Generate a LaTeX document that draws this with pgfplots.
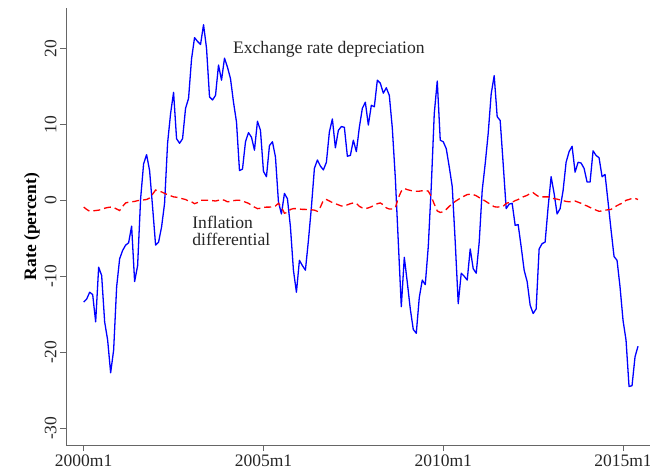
\documentclass[border=0pt]{standalone}
\usepackage{pgfplots}
\pgfplotsset{compat=1.18}
\usepackage{pgfplotstable}
\usepackage{fontspec}
\setmainfont{Liberation Serif}

\pgfplotstableread{
m v
0 -13.4
1 -13.0
2 -12.1
3 -12.4
4 -16.0
5 -8.8
6 -9.9
7 -16.0
8 -18.4
9 -22.7
10 -19.7
11 -11.4
12 -7.7
13 -6.6
14 -5.9
15 -5.6
16 -3.4
17 -10.7
18 -8.6
19 0.2
20 4.8
21 6.0
22 3.9
23 -0.9
24 -5.9
25 -5.5
26 -3.5
27 -0.4
28 7.5
29 11.4
30 14.2
31 8.1
32 7.5
33 8.1
34 12.1
35 13.4
36 18.6
37 21.4
38 20.9
39 20.5
40 23.1
41 20.0
42 13.6
43 13.2
44 13.8
45 17.8
46 15.8
47 18.7
48 17.5
49 16.0
50 12.9
51 10.3
52 3.9
53 4.1
54 7.7
55 8.9
56 8.3
57 6.6
58 10.4
59 9.2
60 3.8
61 3.1
62 7.2
63 7.7
64 5.7
65 -0.2
66 -1.8
67 0.9
68 0.2
69 -3.5
70 -9.2
71 -12.1
72 -7.9
73 -8.6
74 -9.2
75 -5.3
76 -0.9
77 4.2
78 5.3
79 4.5
80 4.0
81 5.0
82 9.0
83 10.7
84 6.9
85 9.2
86 9.7
87 9.6
88 5.8
89 5.9
90 7.9
91 6.4
92 9.6
93 12.1
94 12.9
95 9.9
96 12.5
97 12.3
98 15.8
99 15.4
100 14.1
101 14.8
102 13.8
103 9.5
104 3.0
105 -5.5
106 -14.0
107 -7.5
108 -10.8
109 -14.3
110 -17.0
111 -17.5
112 -12.8
113 -10.5
114 -11.1
115 -6.1
116 1.8
117 11.4
118 15.7
119 7.9
120 7.7
121 6.8
122 4.4
123 1.8
124 -5.5
125 -13.6
126 -9.6
127 -10.0
128 -10.5
129 -6.4
130 -9.0
131 -9.6
132 -5.5
133 1.3
134 4.8
135 8.8
136 14.0
137 16.4
138 11.0
139 10.5
140 4.8
141 -1.1
142 -0.5
143 -0.4
144 -3.3
145 -3.2
146 -6.1
147 -9.2
148 -10.7
149 -13.8
150 -14.9
151 -14.3
152 -6.4
153 -5.7
154 -5.5
155 -0.9
156 3.1
157 0.9
158 -1.8
159 -1.1
160 1.3
161 5.0
162 6.4
163 7.1
164 3.7
165 5.0
166 4.9
167 4.2
168 2.4
169 2.4
170 6.5
171 5.9
172 5.6
173 3.1
174 3.4
175 -0.2
176 -3.9
177 -7.4
178 -7.9
179 -11.4
180 -15.8
181 -18.4
182 -24.5
183 -24.4
184 -20.6
185 -19.2
}\exch

\pgfplotstableread{
m v
0 -0.9
1 -1.2
2 -1.45
3 -1.4
4 -1.35
5 -1.3
6 -1.2
7 -1.05
8 -0.95
9 -0.9
10 -0.95
11 -1.15
12 -1.35
13 -0.8
14 -0.35
15 -0.25
16 -0.2
17 -0.15
18 -0.05
19 0.0
20 0.05
21 0.1
22 0.3
23 0.8
24 1.35
25 1.2
26 1.1
27 0.9
28 0.75
29 0.6
30 0.45
31 0.4
32 0.3
33 0.2
34 0.1
35 -0.1
36 -0.2
37 -0.45
38 -0.3
39 0.0
40 0.0
41 0.0
42 0.0
43 -0.05
44 -0.1
45 0.0
46 0.1
47 0.0
48 -0.2
49 -0.15
50 -0.05
51 0.0
52 0.0
53 -0.1
54 -0.25
55 -0.4
56 -0.65
57 -0.9
58 -1.1
59 -1.05
60 -0.95
61 -0.9
62 -0.9
63 -0.85
64 -0.75
65 -0.4
66 -0.9
67 -1.7
68 -1.6
69 -1.2
70 -1.1
71 -1.1
72 -1.15
73 -1.2
74 -1.2
75 -1.25
76 -1.25
77 -1.3
78 -1.45
79 -0.9
80 0.0
81 0.1
82 -0.1
83 -0.3
84 -0.45
85 -0.6
86 -0.75
87 -0.75
88 -0.6
89 -0.45
90 -0.35
91 -0.4
92 -0.8
93 -1.0
94 -1.1
95 -1.0
96 -0.85
97 -0.65
98 -0.45
99 -0.35
100 -0.6
101 -1.0
102 -1.15
103 -1.15
104 -1.0
105 0.3
106 1.2
107 1.55
108 1.4
109 1.3
110 1.2
111 1.2
112 1.2
113 1.25
114 1.3
115 1.2
116 0.5
117 -0.5
118 -1.4
119 -1.6
120 -1.5
121 -1.2
122 -0.8
123 -0.45
124 -0.15
125 0.1
126 0.35
127 0.55
128 0.75
129 0.8
130 0.75
131 0.6
132 0.35
133 0.15
134 -0.1
135 -0.35
136 -0.6
137 -0.85
138 -0.9
139 -0.85
140 -0.8
141 -0.4
142 -0.3
143 -0.25
144 -0.05
145 0.1
146 0.35
147 0.5
148 0.65
149 0.9
150 1.0
151 0.7
152 0.45
153 0.45
154 0.45
155 0.45
156 0.4
157 0.2
158 0.15
159 0.05
160 -0.05
161 -0.15
162 -0.2
163 -0.15
164 -0.1
165 -0.25
166 -0.4
167 -0.6
168 -0.75
169 -0.95
170 -1.1
171 -1.3
172 -1.45
173 -1.4
174 -1.3
175 -1.25
176 -1.2
177 -0.95
178 -0.7
179 -0.5
180 -0.35
181 0.0
182 0.1
183 0.25
184 0.25
185 0.1
}\infl

\begin{document}
\begin{tikzpicture}
\begin{axis}[
  name=ax,
  scale only axis,
  width=584pt, height=437pt,
  xmin=-5.9, xmax=189, ymin=-32.2, ymax=25.3,
  axis x line=bottom, axis y line=left,
  axis line style={-, draw=black!60, line width=0.8pt},
  tick align=outside,
  major tick length=6pt,
  tick style={draw=black!60, line width=0.8pt},
  xtick={0,60,120,180},
  xticklabels={2000m1,2005m1,2010m1,2015m1},
  ytick={-30,-20,-10,0,10,20},
  yticklabels={-30,-20,-10,0,10,20},
  minor tick num=0,
  /pgf/number format/assume math mode=true,
  ticklabel style={font=\fontsize{17.5}{20}\selectfont, text=black!85},
  yticklabel style={rotate=90, anchor=south},
  ylabel={\textbf{Rate (percent)}},
  ylabel style={font=\fontsize{17.5}{20}\selectfont, yshift=-2pt},
  clip=false,
]
\addplot[blue, line width=1.3pt, line join=round] table[x=m, y=v] {\exch};
\addplot[red, line width=1.3pt, dash pattern=on 7pt off 4pt] table[x=m, y=v] {\infl};
\node[anchor=west, inner sep=0pt, font=\fontsize{17.6}{20}\selectfont, text=black!85] at (axis cs:49.8,19.8) {Exchange rate depreciation};
\node[anchor=west, inner sep=0pt, align=left, font=\fontsize{17.6}{16.5}\selectfont, text=black!85] at (axis cs:36.2,-4.0) {Inflation\\differential};
\end{axis}
\pgfresetboundingbox
\path[use as bounding box] ([shift={(-66pt,-30pt)}]ax.south west) rectangle ([shift={(0pt,8pt)}]ax.north east);
\end{tikzpicture}
\end{document}
